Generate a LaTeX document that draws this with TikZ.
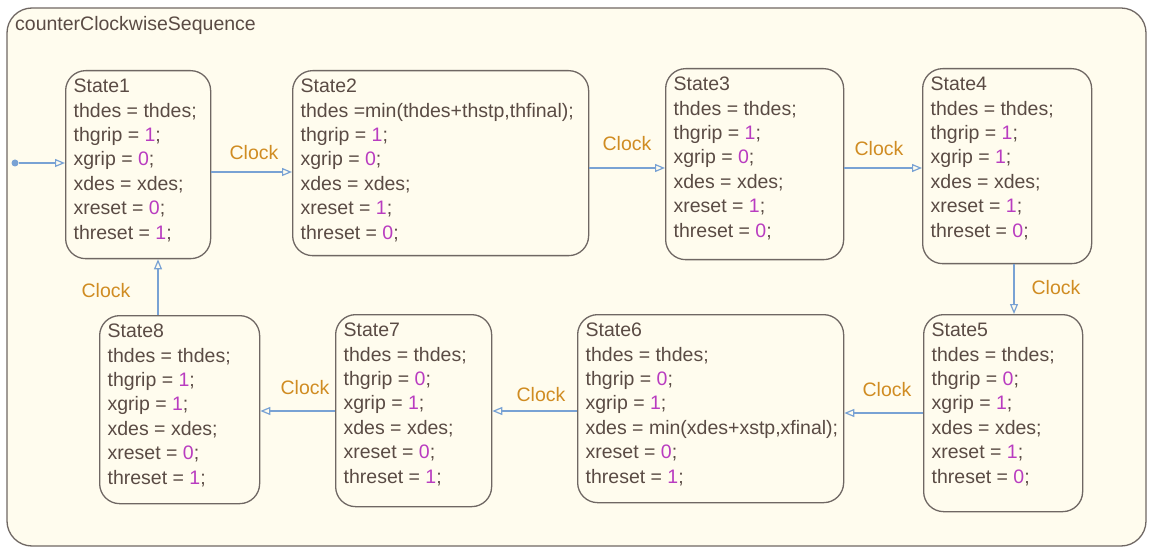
\documentclass[tikz,border=0pt]{standalone}
\usepackage{fontspec}
\setmainfont{Liberation Sans}
\usetikzlibrary{arrows.meta}
\definecolor{bg}{HTML}{FFFCEE}
\definecolor{framec}{HTML}{6F6763}
\definecolor{txt}{HTML}{5A4B44}
\definecolor{num}{HTML}{B93CC0}
\definecolor{evt}{HTML}{D08C22}
\definecolor{wire}{HTML}{79A2D4}
\newcommand\nm[1]{\textcolor{num}{#1}}
\newcommand\stbody[3]{\parbox[t][#2pt][t]{#1pt}{\raggedright\hfuzz=20pt\strut #3}}
\begin{document}
\begin{tikzpicture}[x=1pt,y=-1pt,
  font=\fontsize{19.5}{24.4}\selectfont,
  statebox/.style={draw=framec, line width=1.3pt, rounded corners=20pt, fill=bg,
    text=txt, anchor=north west, inner xsep=8pt, inner ysep=5pt},
  tr/.style={draw=wire, line width=1.3pt, -{Triangle[open, length=10pt, width=8pt, line width=1.2pt]}},
  evtlbl/.style={text=evt, inner sep=1pt}]
\useasboundingbox (0,0) rectangle (1149,548);
\fill[white] (0,0) rectangle (1149,548);
\draw[framec, line width=1.3pt, fill=bg, rounded corners=25pt] (7,8) rectangle (1146,546);
\node[anchor=west, text=txt, inner sep=0pt] (title) at (15,25) {counterClockwiseSequence};

\node[statebox] (s1) at (65,70) {\stbody{129}{178}{State1\\thdes = thdes;\\thgrip = \nm{1};\\xgrip = \nm{0};\\xdes = xdes;\\xreset = \nm{0};\\threset = \nm{1};}};
\node[statebox] (s2) at (292,70) {\stbody{280}{175}{State2\\thdes =min(thdes+thstp,thfinal);\\thgrip = \nm{1};\\xgrip = \nm{0};\\xdes = xdes;\\xreset = \nm{1};\\threset = \nm{0};}};
\node[statebox] (s3) at (665,68) {\stbody{162}{181}{State3\\thdes = thdes;\\thgrip = \nm{1};\\xgrip = \nm{0};\\xdes = xdes;\\xreset = \nm{1};\\threset = \nm{0};}};
\node[statebox] (s4) at (922,68) {\stbody{153}{185}{State4\\thdes = thdes;\\thgrip = \nm{1};\\xgrip = \nm{1};\\xdes = xdes;\\xreset = \nm{1};\\threset = \nm{0};}};
\node[statebox] (s5) at (923,314) {\stbody{143}{187}{State5\\thdes = thdes;\\thgrip = \nm{0};\\xgrip = \nm{1};\\xdes = xdes;\\xreset = \nm{1};\\threset = \nm{0};}};
\node[statebox] (s6) at (577,314) {\stbody{250}{178}{State6\\thdes = thdes;\\thgrip = \nm{0};\\xgrip = \nm{1};\\\mbox{xdes = min(xdes+xstp,xfinal);}\\xreset = \nm{0};\\threset = \nm{1};}};
\node[statebox] (s7) at (335,314) {\stbody{140}{182}{State7\\thdes = thdes;\\thgrip = \nm{0};\\xgrip = \nm{1};\\xdes = xdes;\\xreset = \nm{0};\\threset = \nm{1};}};
\node[statebox] (s8) at (99,315) {\stbody{144}{178}{State8\\thdes = thdes;\\thgrip = \nm{1};\\xgrip = \nm{1};\\xdes = xdes;\\xreset = \nm{0};\\threset = \nm{1};}};

\node[circle, fill=wire, inner sep=0pt, minimum size=7pt] (init) at (15,163) {};
\draw[tr] (init) -- (s1.west |- init);

\draw[tr] (s1.east |- 0,172) -- (s2.west |- 0,172);
\draw[tr] (s2.east |- 0,168) -- (s3.west |- 0,168);
\draw[tr] (s3.east |- 0,168) -- (s4.west |- 0,168);
\draw[tr] (s4.south -| 1014,0) -- (s5.north -| 1014,0);
\draw[tr] (s5.west |- 0,413) -- (s6.east |- 0,413);
\draw[tr] (s6.west |- 0,411) -- (s7.east |- 0,411);
\draw[tr] (s7.west |- 0,411) -- (s8.east |- 0,411);
\draw[tr] (s8.north -| 158,0) -- (s1.south -| 158,0);

\node[evtlbl] (c12) at (254,153) {Clock};
\node[evtlbl] (c23) at (627,144) {Clock};
\node[evtlbl] (c34) at (879,149) {Clock};
\node[evtlbl] (c45) at (1056,288) {Clock};
\node[evtlbl] (c56) at (887,390) {Clock};
\node[evtlbl] (c67) at (541,395) {Clock};
\node[evtlbl] (c78) at (305,388) {Clock};
\node[evtlbl] (c81) at (106,291) {Clock};
\end{tikzpicture}
\end{document}
